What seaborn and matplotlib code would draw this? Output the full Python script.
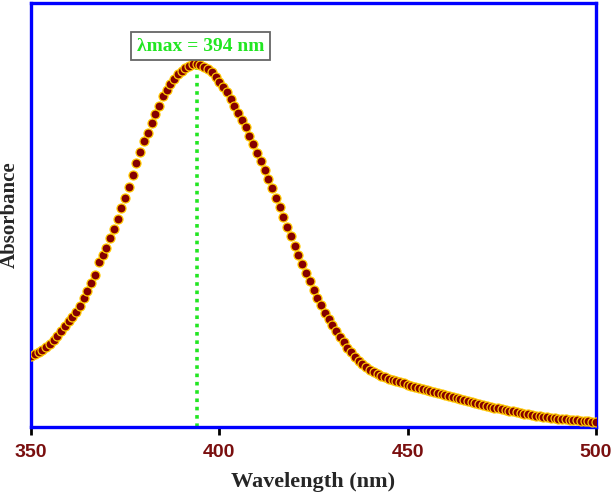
import numpy as np
import pandas as pd
import matplotlib
matplotlib.use("Agg")
import matplotlib.pyplot as plt
import seaborn as sns

# wavelength grid (nm) and absorbance (arbitrary units)
wavelength = list(range(350, 501))
absorbance = [
    0.071, 0.073, 0.075, 0.077, 0.080, 0.083, 0.087, 0.091, 0.096, 0.101,
    0.106, 0.110, 0.115, 0.121, 0.129, 0.136, 0.144, 0.152, 0.165, 0.172,
    0.179, 0.189, 0.198, 0.208, 0.219, 0.229, 0.240, 0.252, 0.264, 0.275,
    0.286, 0.294, 0.304, 0.313, 0.321, 0.331, 0.337, 0.343, 0.348, 0.353,
    0.356, 0.359, 0.361, 0.363, 0.363, 0.362, 0.360, 0.358, 0.355, 0.350,
    0.345, 0.340, 0.335, 0.328, 0.321, 0.314, 0.307, 0.300, 0.291, 0.283,
    0.274, 0.266, 0.257, 0.248, 0.239, 0.229, 0.220, 0.210, 0.200, 0.191,
    0.181, 0.172, 0.163, 0.154, 0.146, 0.137, 0.129, 0.122, 0.114, 0.108,
    0.102, 0.096, 0.090, 0.085, 0.079, 0.075, 0.070, 0.066, 0.063, 0.060,
    0.057, 0.055, 0.053, 0.051, 0.050, 0.048, 0.047, 0.046, 0.045, 0.044,
    0.042, 0.041, 0.040, 0.039, 0.038, 0.037, 0.036, 0.035, 0.034, 0.033,
    0.032, 0.031, 0.030, 0.029, 0.028, 0.027, 0.026, 0.025, 0.024, 0.023,
    0.022, 0.021, 0.020, 0.019, 0.019, 0.018, 0.017, 0.016, 0.016, 0.015,
    0.014, 0.013, 0.013, 0.012, 0.011, 0.011, 0.010, 0.010, 0.009, 0.009,
    0.008, 0.008, 0.008, 0.007, 0.007, 0.007, 0.006, 0.006, 0.006, 0.005,
    0.005,
]
lambda_max = 394
xticks = [350, 400, 450, 500]

df = pd.DataFrame({"wavelength": wavelength, "absorbance": absorbance})
peak = df.loc[df["wavelength"] == lambda_max, "absorbance"].iloc[0]

sns.set_style("white")
fig = plt.figure(figsize=(6.11, 4.92), dpi=100)
ax = fig.add_axes([0.0507, 0.1321, 0.9248, 0.8618])

# green dotted line at lambda max (drawn first, points on top)
ax.plot([lambda_max, lambda_max], [0, peak], color="#22e622", lw=2.6,
        linestyle=(0, (1, 1.3)), zorder=1)

sns.scatterplot(data=df, x="wavelength", y="absorbance", ax=ax,
                s=42, color="#850000", edgecolor="#ffc800", linewidth=0.9,
                zorder=3, legend=False)

ax.text(lambda_max + 1, 0.381, "λmax = 394 nm", color="#22e622",
        fontsize=14, fontweight="bold", family="Liberation Serif",
        ha="center", va="center",
        bbox=dict(boxstyle="square,pad=0.3", fc="white", ec="#666666", lw=1.3))

ax.set_xlim(350, 500)
ax.set_ylim(0, 0.424)
ax.set_xticks(xticks)
ax.set_yticks([])
ax.tick_params(axis="x", direction="out", length=6, width=2, color="black",
               labelsize=14, labelcolor="#7a0f0f", pad=6, bottom=True)
for lab in ax.get_xticklabels():
    lab.set_fontweight("bold")
    lab.set_family("Liberation Sans")

for sp in ax.spines.values():
    sp.set_color("#0000ff")
    sp.set_linewidth(2.4)

ax.set_xlabel("Wavelength (nm)", fontsize=16, fontweight="bold",
              family="Liberation Serif", labelpad=8)
ax.set_ylabel("Absorbance", fontsize=15, fontweight="bold",
              family="Liberation Serif", labelpad=8)

fig.savefig("out.png", dpi=100)
